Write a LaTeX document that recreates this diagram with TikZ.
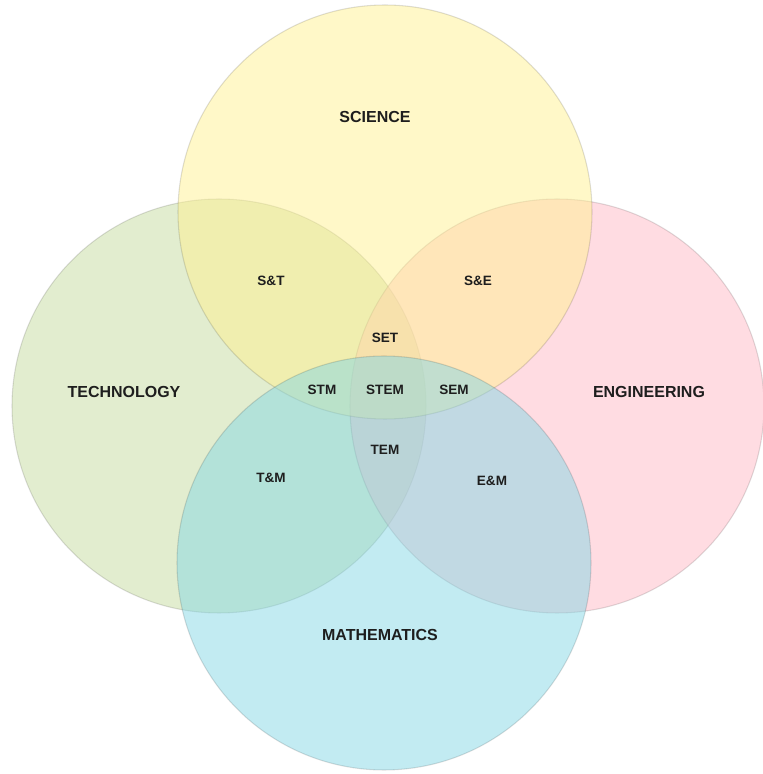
\documentclass[tikz,border=0pt]{standalone}
\usepackage{fontspec}
\setmainfont{Liberation Sans}
\definecolor{scicol}{RGB}{255,241,145}
\definecolor{techcol}{RGB}{197,219,159}
\definecolor{engcol}{RGB}{255,185,197}
\definecolor{mathcol}{RGB}{133,215,229}
\definecolor{ink}{RGB}{30,30,30}

\begin{document}
\begin{tikzpicture}[x=0.02cm,y=0.02cm,
    field/.style={fill opacity=0.5,draw=black,draw opacity=0.13,line width=0.6pt},
    big/.style={text=ink,font=\fontsize{9.1}{11}\selectfont\bfseries},
    small/.style={text=ink,font=\fontsize{7.7}{9}\selectfont\bfseries}]
    \useasboundingbox (0,0) rectangle (763,774);
    % the four disciplines, science laid over the two side circles
    \filldraw[field,fill=techcol] (219,368) circle (207);
    \filldraw[field,fill=engcol] (557,368) circle (207);
    \filldraw[field,fill=scicol] (385,562) circle (207);
    \filldraw[field,fill=mathcol] (384,211) circle (207);
    \node (sci) at (375,657) [big] {SCIENCE};
    \node (tech) at (124,382) [big] {TECHNOLOGY};
    \node (eng) at (649,382) [big] {ENGINEERING};
    \node (math) at (380,139) [big] {MATHEMATICS};
    % overlaps
    \node (st) at (271,493) [small] {S\&T};
    \node (se) at (478,493) [small] {S\&E};
    \node (set) at (385,436) [small] {SET};
    \node (stm) at (322,384) [small] {STM};
    \node (stem) at (385,384) [small] {STEM};
    \node (sem) at (454,384) [small] {SEM};
    \node (tem) at (385,324) [small] {TEM};
    \node (tm) at (271,296) [small] {T\&M};
    \node (em) at (492,293) [small] {E\&M};
\end{tikzpicture}
\end{document}
